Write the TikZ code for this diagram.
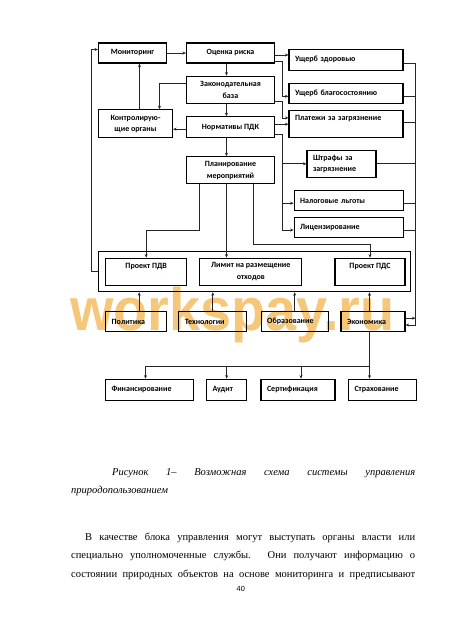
\documentclass[tikz,border=0pt]{standalone}
\usepackage{fontspec}
\setmainfont{Liberation Serif}
\newfontfamily\blockfont{Carlito}
\newfontfamily\markfont{Liberation Sans}
\usetikzlibrary{arrows.meta}
\definecolor{wmark}{RGB}{244,190,100}

\begin{document}
\begin{tikzpicture}[
        x=1pt, y=-1pt,
        >={Stealth[length=3.5pt,width=3pt]},
        block/.style={draw, line width=1.1pt, inner sep=0pt, align=center,
            font=\blockfont\bfseries\fontsize{8}{11.5}\selectfont},
        lblock/.style={block, inner xsep=6pt, align=left, text width=#1},
        link/.style={draw=black!85, line width=.7pt},
        textline/.style={anchor=base west, inner sep=0pt,
            font=\fontsize{10.5}{12}\selectfont}
    ]

\fill[white] (0,0) rectangle (448,630);
\useasboundingbox (0,0) rectangle (448,630);

% watermark
\node[anchor=base west, inner sep=0pt, xscale=.93, text=wmark, text opacity=.85,
    font=\markfont\bfseries\fontsize{60}{60}\selectfont] (wm) at (70,330) {workspay.ru};

% blocks
\node[block, minimum width=68pt, minimum height=20pt] (mon) at (132.5,53) {Мониторинг};
\node[block, minimum width=88pt, minimum height=20pt] (risk) at (230.5,53) {Оценка риска};
\node[lblock=102pt, minimum height=21pt] (ushz) at (346,59.7) {Ущерб здоровью};
\node[block, minimum width=88pt, minimum height=27pt] (zakon) at (230.5,89.7) {Законодательная\\база};
\node[lblock=102pt, minimum height=20pt] (ushb) at (346,93.3) {Ущерб благосостоянию};
\node[block, minimum width=74pt, minimum height=28pt] (kontr) at (135.5,123.8) {Контролирую-\\щие органы};
\node[block, minimum width=88pt, minimum height=21pt] (norm) at (230.5,127.2) {Нормативы ПДК};
\node[lblock=102pt, minimum height=27pt] (plat) at (346,123.9) {Платежи за загрязнение\\\mbox{}};
\node[block, minimum width=88pt, minimum height=27pt] (plan) at (230.5,170.3) {Планирование\\мероприятий};
\node[lblock=57pt, minimum height=27pt] (shtr) at (341.5,163.8) {Штрафы за\\загрязнение};
\node[lblock=97pt, minimum height=20pt] (nal) at (348.7,200.7) {Налоговые льготы};
\node[lblock=97pt, minimum height=20pt] (lic) at (348.7,227.5) {Лицензирование};

\node[draw, line width=1.1pt, minimum width=312pt, minimum height=40pt] (outer) at (254.2,271.7) {};
\node[block, minimum width=81pt, minimum height=27pt] (pdv) at (146.2,271.7) {Проект ПДВ\\\mbox{}};
\node[block, minimum width=102pt, minimum height=27pt] (lim) at (250.8,271.7) {Лимит на размещение\\отходов};
\node[block, minimum width=70pt, minimum height=27pt] (pds) at (370,271.7) {Проект ПДС\\\mbox{}};

\node[lblock=49pt, minimum height=20pt] (pol) at (136.2,321.7) {Политика};
\node[lblock=56pt, minimum height=20pt] (tech) at (212.8,321.7) {Технологии};
\node[lblock=55pt, minimum height=20pt] (obr) at (294.7,321.7) {Образование};
\node[lblock=52pt, minimum height=20pt] (econ) at (373,321.7) {Экономика};

\node[lblock=76pt, minimum height=21pt] (fin) at (149.5,389.7) {Финансирование};
\node[lblock=28pt, minimum height=21pt] (aud) at (226.7,389.7) {Аудит};
\node[lblock=62pt, minimum height=21pt] (sert) at (298,389.7) {Сертификация};
\node[lblock=56pt, minimum height=21pt] (strah) at (382.5,389.7) {Страхование};

% upper part
\draw[link,->] (mon) -- (risk);
\draw[link,->] ([yshift=-2pt]risk.east) -- ([yshift=-2pt]risk.east -| ushz.west);
\draw[link,->] ([yshift=-8pt]risk.east) -- ++(7.5,0) |- ([yshift=-3pt]ushb.west);
\draw[link,->] ([xshift=-4pt]risk.south) -- ([xshift=-4pt]zakon.north);
\draw[link,->] ([xshift=-4pt]zakon.south) -- ([xshift=-4pt]norm.north);
\draw[link,->] ([xshift=-4pt]norm.south) -- ([xshift=-4pt]plan.north);
\draw[link,->] ([yshift=-12pt]zakon.east) -- ++(7.5,0) |- ([yshift=6pt]plat.west);
\draw[link,->] ([yshift=3pt]norm.east) -- ([yshift=3pt]norm.east -| plat.west);
\draw[link] ([yshift=-7pt]norm.east) -- ++(7.5,0) coordinate (nb);
\draw[link,->] (nb) |- (shtr.west);
\draw[link,->] (nb) |- ([yshift=-2.5pt]nal.west);
\draw[link,->] (nb) |- ([yshift=-2.5pt]lic.west);

% control loop
\draw[link,->] ([yshift=6pt]zakon.west) -| ([xshift=24pt]kontr.north);
\draw[link,->] ([yshift=-2pt]norm.west) -- ([yshift=-2pt]norm.west -| kontr.east);
\draw[link,->] ([xshift=4pt]kontr.north) -- ([xshift=4pt]kontr.north |- mon.south);
\draw[link,->] (outer.west) -- ++(-6,0) |- ([yshift=3.5pt]mon.west);

% right bus
\coordinate (rb) at (415.5,325);
\draw[link,->] ([yshift=-3.5pt]ushz.east) -| (rb) -- (rb -| econ.east);
\foreach \n/\s in {ushb/-3pt, plat/2pt, shtr/0pt, nal/-2.5pt, lic/-2.5pt}
    \draw[link] ([yshift=\s]\n.east) -- ([yshift=\s]\n.east -| rb);
\draw[link,->] ([yshift=3.5pt]econ.east) -- ([yshift=3.5pt]econ.east -| rb);

% planning
\draw[link,->] ([xshift=-31pt]plan.south) -- ++(0,46) -| (pdv.north);
\draw[link,->] ([xshift=-4pt]plan.south) -- ([xshift=-4pt]plan.south |- lim.north);
\draw[link,->] ([xshift=23pt]plan.south) -- ++(0,60) -| (pds.north);

% lower part
\foreach \n/\s in {pol/3pt, tech/0pt, obr/0pt, econ/-3.5pt}
    \draw[link,->] ([xshift=\s]\n.north) -- ([xshift=\s]\n.north |- outer.south);
\draw[link] ([xshift=-3.5pt]econ.south) -- ++(0,34.3) coordinate (eb);
\foreach \n/\s in {fin/-4pt, aud/0pt, sert/3pt, strah/-13pt}
    \draw[link,->] (eb) -| ([xshift=\s]\n.north);

% caption and text
\node[textline, font=\itshape\fontsize{10.5}{12}\selectfont] (cap1) at (112,475)
    {\makebox[303pt][s]{Рисунок 1– Возможная схема системы управления}};
\node[textline, font=\itshape\fontsize{10.5}{12}\selectfont] (cap2) at (71,493) {природопользованием};
\node[textline] (txt1) at (85,540)
    {\makebox[330pt][s]{В качестве блока управления могут выступать органы власти или}};
\node[textline] (txt2) at (71,558)
    {\makebox[344pt][s]{специально уполномоченные службы. Они получают информацию о}};
\node[textline] (txt3) at (71,577)
    {\makebox[344pt][s]{состоянии природных объектов на основе мониторинга и предписывают}};
\node[inner sep=0pt, anchor=base, font=\blockfont\fontsize{8}{10}\selectfont] (pg) at (240.8,591) {40};

\end{tikzpicture}
\end{document}
